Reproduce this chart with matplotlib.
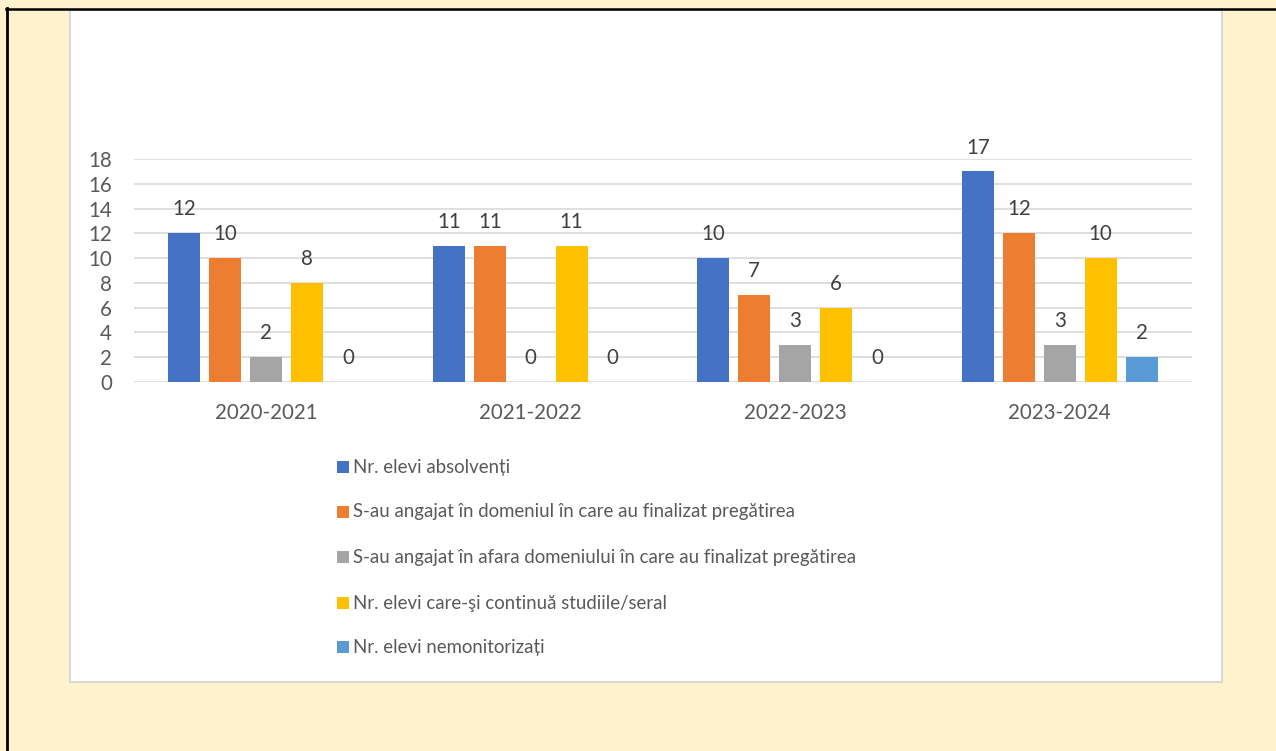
import matplotlib
matplotlib.use("Agg")
import matplotlib.pyplot as plt
from matplotlib.patches import Rectangle
from matplotlib.lines import Line2D
import numpy as np

categories = ["2020-2021", "2021-2022", "2022-2023", "2023-2024"]
series_names = [
    "Nr. elevi absolvenți",
    "S-au angajat în domeniul în care au finalizat pregătirea",
    "S-au angajat în afara domeniului în care au finalizat pregătirea",
    "Nr. elevi care-şi continuă studiile/seral",
    "Nr. elevi nemonitorizați",
]
absolventi = [12, 11, 10, 17]
angajat_domeniu = [10, 11, 7, 12]
angajat_afara = [2, 0, 3, 3]
continua_studiile = [8, 11, 6, 10]
nemonitorizati = [0, 0, 0, 2]
series_values = [absolventi, angajat_domeniu, angajat_afara, continua_studiile, nemonitorizati]
colors = ["#4472C4", "#ED7D31", "#A5A5A5", "#FFC000", "#5B9BD5"]
yticks = list(range(0, 20, 2))

FONT = "Lato"
TXT = "#595959"
FS = 13.4      # legend
FS_AX = 14.8   # ticks and data labels
W, H = 1276, 751
fig = plt.figure(figsize=(W / 100, H / 100), dpi=100)
fig.patch.set_facecolor("#FFF2CC")

def fx(px):
    return px / W

def fy(py):
    return 1 - py / H

# white chart area with light grey border
fig.patches.append(Rectangle((fx(70), fy(682)), fx(1222) - fx(70), fy(10) - fy(682),
                             transform=fig.transFigure, facecolor="white",
                             edgecolor="#D9D9D9", linewidth=1.5, zorder=-5))
# black page border (left and top)
fig.lines.append(Line2D([fx(6.5), fx(6.5)], [fy(8), 0], transform=fig.transFigure,
                        color="black", linewidth=2, zorder=-4))
fig.lines.append(Line2D([fx(5.5), 1], [fy(8.5), fy(8.5)], transform=fig.transFigure,
                        color="black", linewidth=1.8, zorder=-4))

ax = fig.add_axes([fx(134), fy(382), fx(1192) - fx(134), fy(159) - fy(382)])
ax.set_zorder(2)
ax.set_facecolor("none")
x = np.arange(len(categories))
step = 0.155
width = 0.121
for j, (vals, c) in enumerate(zip(series_values, colors)):
    bars = ax.bar(x + (j - 2) * step, vals, width=width, color=c, zorder=3)
    ax.bar_label(bars, labels=[str(v) for v in vals], padding=10,
                 fontsize=FS_AX, color="#404040", family=FONT)

ax.set_xlim(-0.5, len(categories) - 0.5)
ax.set_ylim(0, 18)
ax.set_yticks(yticks)
ax.set_xticks(x)
ax.set_xticklabels(categories)
ax.grid(axis="y", color="#D9D9D9", linewidth=1.2, zorder=0)
for s in ["top", "right", "left", "bottom"]:
    ax.spines[s].set_visible(False)
ax.tick_params(axis="both", length=0, labelsize=FS_AX, labelcolor=TXT)
ax.tick_params(axis="y", pad=16)
ax.tick_params(axis="x", pad=15)
for lab in ax.get_xticklabels() + ax.get_yticklabels():
    lab.set_family(FONT)

# legend
row_y = [467, 512, 557, 603, 647]
for name, c, ry in zip(series_names, colors, row_y):
    fig.patches.append(Rectangle((fx(337), fy(ry + 6)), fx(12), fy(ry - 6) - fy(ry + 6),
                                 transform=fig.transFigure, facecolor=c, edgecolor="none"))
    fig.text(fx(353), fy(ry), name, fontsize=FS, color=TXT, family=FONT,
             va="center", ha="left")

fig.savefig("out.png", dpi=100, facecolor=fig.get_facecolor())
